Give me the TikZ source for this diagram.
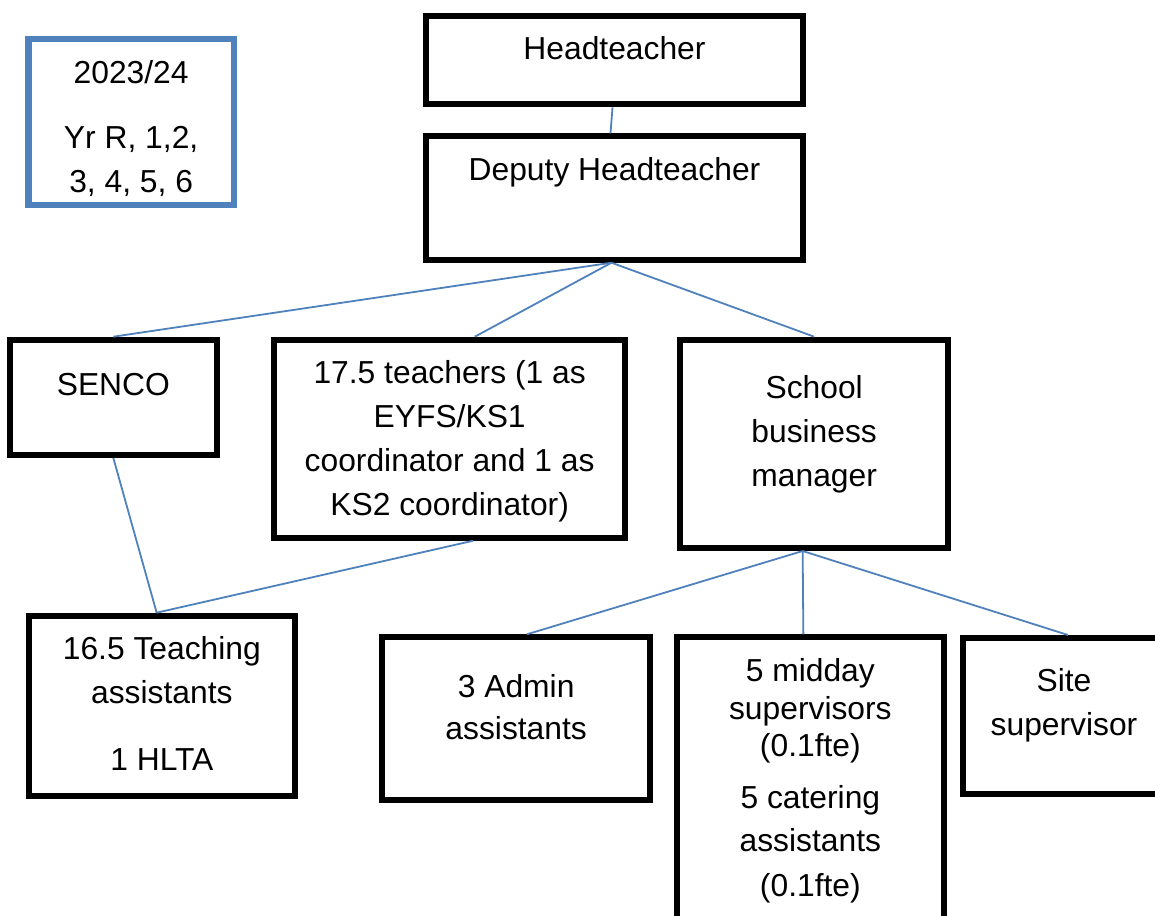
\documentclass[tikz,border=0pt]{standalone}
\usepackage{fontspec}
\setmainfont{Liberation Sans}
\usetikzlibrary{positioning}
\definecolor{linkblue}{HTML}{4F81BD}

\begin{document}
\begin{tikzpicture}[
    x=0.5pt,y=-0.5pt,
    role/.style={rectangle,draw,line width=3pt,anchor=north west,inner sep=0pt},
    yearbox/.style={rectangle,draw=linkblue,line width=3.25pt,anchor=north west,inner sep=0pt},
    roletext/.style={inner sep=0pt,align=center,font=\fontsize{15.9pt}{22pt}\selectfont},
    link/.style={draw=linkblue,line width=0.9pt}
]
    \useasboundingbox (0,0) rectangle (1155,915);
    \clip (0,0) rectangle (1155,915);

    % Boxes
    \node[yearbox,minimum width=102.9pt,minimum height=82.9pt] (year) at (25,36) {};
    \node[role,minimum width=188.2pt,minimum height=44pt] (head) at (423.3,13.3) {};
    \node[role,minimum width=188.2pt,minimum height=61.7pt] (deputy) at (423.3,133.3) {};
    \node[role,minimum width=103.65pt,minimum height=57.65pt] (senco) at (6.7,336.7) {};
    \node[role,minimum width=175.65pt,minimum height=99pt] (teachers) at (271,336.7) {};
    \node[role,minimum width=133.85pt,minimum height=104.15pt] (sbm) at (677.3,336.7) {};
    \node[role,minimum width=132.85pt,minimum height=90.3pt] (ta) at (26,612.7) {};
    \node[role,minimum width=134.15pt,minimum height=81.5pt] (admin) at (379,634.3) {};
    \node[role,minimum width=133.35pt,minimum height=170pt] (midday) at (674,634.3) {};
    \node[role,minimum width=101pt,minimum height=77.85pt] (site) at (960,635) {};

    % Texts
    \node[roletext,below=11.8pt of year.north] (yeartxt) {2023/24\\[10.5pt]Yr R, 1,2,\\3, 4, 5, 6};
    \node[roletext,below=11.2pt of head.north] (headtxt) {Headteacher};
    \node[roletext,below=11.7pt of deputy.north] (deputytxt) {Deputy Headteacher};
    \node[roletext,below=18.2pt of senco.north] (sencotxt) {SENCO};
    \node[roletext,below=11.9pt of teachers.north] (teacherstxt) {17.5 teachers (1 as\\EYFS/KS1\\coordinator and 1 as\\KS2 coordinator)};
    \node[roletext,below=19pt of sbm.north] (sbmtxt) {School\\business\\manager};
    \node[roletext,below=11.5pt of ta.north] (tatxt) {16.5 Teaching\\assistants\\[11.7pt]1 HLTA};
    \node[roletext,below=19.7pt of admin.north] (admintxt) {3 Admin\\[-1pt]assistants};
    \node[roletext,below=11.9pt of midday.north] (middaytxt) {5 midday\\[-3.2pt]supervisors\\[-3.4pt](0.1fte)\\[4pt]5 catering\\[-0.5pt]assistants\\[0.5pt](0.1fte)};
    \node[roletext,below=16.4pt of site.north] (sitetxt) {Site\\supervisor};

    % Junctions
    \coordinate (depjoin) at ([xshift=-1.5pt]deputy.south);
    \coordinate (tajoin) at ([xshift=-2.6pt]ta.north);
    \coordinate (sbmjoin) at ([xshift=-5.75pt]sbm.south);

    % Connectors
    \draw[link] ([xshift=-1pt]head.south) -- ([xshift=-2pt]deputy.north);
    \draw[link] (depjoin) -- (senco.north);
    \draw[link] (depjoin) -- ([xshift=12.6pt]teachers.north);
    \draw[link] (depjoin) -- (sbm.north);
    \draw[link] (senco.south) -- (tajoin);
    \draw[link] ([xshift=11.8pt]teachers.south) -- (tajoin);
    \draw[link] (sbmjoin) -- ([xshift=5.35pt]admin.north);
    \draw[link] (sbmjoin) -- ([xshift=-3.5pt]midday.north);
    \draw[link] (sbmjoin) -- ([xshift=2pt]site.north);
\end{tikzpicture}
\end{document}
